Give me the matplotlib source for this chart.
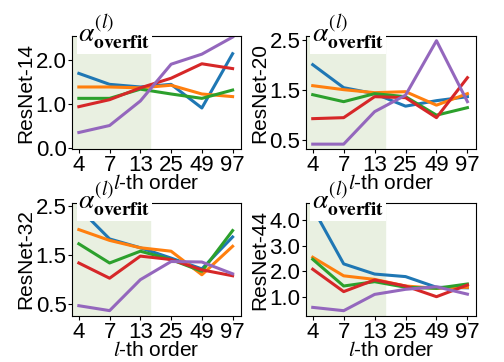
import matplotlib
matplotlib.use("Agg")
import matplotlib.pyplot as plt

plt.rcParams["font.family"] = ["Liberation Sans", "DejaVu Sans"]
plt.rcParams["mathtext.fontset"] = "stix"

orders = ["4", "7", "13", "25", "49", "97"]
colors = ["#1f77b4", "#ff7f0e", "#2ca02c", "#d62728", "#9467bd"]

# one list per line, in plotting order: blue, orange, green, red, purple
r14 = [
    [1.70, 1.45, 1.39, 1.45, 0.91, 2.15],
    [1.39, 1.39, 1.37, 1.43, 1.23, 1.17],
    [1.13, 1.13, 1.34, 1.23, 1.13, 1.32],
    [0.94, 1.10, 1.37, 1.59, 1.92, 1.81],
    [0.35, 0.51, 1.07, 1.91, 2.14, 2.53],
]
r20 = [
    [2.01, 1.55, 1.43, 1.18, 1.29, 1.37],
    [1.59, 1.51, 1.45, 1.47, 1.20, 1.43],
    [1.41, 1.27, 1.43, 1.37, 1.00, 1.15],
    [0.93, 0.95, 1.37, 1.35, 0.95, 1.75],
    [0.42, 0.42, 1.07, 1.40, 2.49, 1.27],
]
r32 = [
    [2.45, 1.82, 1.64, 1.43, 1.21, 1.86],
    [2.01, 1.79, 1.64, 1.57, 1.09, 1.67],
    [1.72, 1.33, 1.57, 1.40, 1.16, 1.99],
    [1.33, 1.02, 1.47, 1.40, 1.19, 1.07],
    [0.46, 0.36, 0.99, 1.36, 1.35, 1.11],
]
r44 = [
    [4.49, 2.29, 1.89, 1.79, 1.37, 1.35],
    [2.55, 1.82, 1.68, 1.42, 1.33, 1.37],
    [2.47, 1.42, 1.59, 1.37, 1.33, 1.50],
    [2.08, 1.20, 1.66, 1.42, 1.00, 1.46],
    [0.58, 0.45, 1.09, 1.29, 1.39, 1.10],
]

panels = [
    ("ResNet-14", r14, [0.0, 1.0, 2.0], (-0.03, 2.55), [0.143, 0.588, 0.335, 0.312]),
    ("ResNet-20", r20, [0.5, 1.5, 2.5], (0.32, 2.58), [0.607, 0.588, 0.337, 0.312]),
    ("ResNet-32", r32, [0.5, 1.5, 2.5], (0.25, 2.55), [0.143, 0.127, 0.335, 0.312]),
    ("ResNet-44", r44, [1.0, 2.0, 3.0, 4.0], (0.24, 4.68), [0.607, 0.127, 0.337, 0.312]),
]

fig = plt.figure(figsize=(5.04, 3.62), dpi=100)
xs = list(range(len(orders)))

for i, (name, series, yt, ylim, rect) in enumerate(panels):
    ax = fig.add_axes(rect)
    if i < 2:
        ax.set_zorder(2)  # top row's xlabels sit over the lower titles
    ax.set_xlim(-0.22, 5.27)
    ax.set_ylim(*ylim)
    ax.axvspan(-0.22, 2.33, color="#e9f0e1", zorder=0)
    for vals, c in zip(series, colors):
        ax.plot(xs, vals, color=c, lw=2.2)
    ax.set_xticks(xs)
    ax.set_xticklabels(orders)
    ax.set_yticks(yt)
    ax.set_yticklabels([f"{v:.1f}" for v in yt])
    ax.tick_params(labelsize=16, length=3, pad=1)
    ax.set_ylabel(name, fontsize=15, labelpad=0)
    ax.set_xlabel("$l$-th order", fontsize=15, labelpad=-1)
    ax.text(0.035, 1.03, r"$\alpha^{(l)}_{\mathbf{overfit}}$", transform=ax.transAxes,
            fontsize=20, va="center", ha="left",
            bbox=dict(facecolor="white", edgecolor="none", pad=1.0))

fig.savefig("out.png", dpi=100)
